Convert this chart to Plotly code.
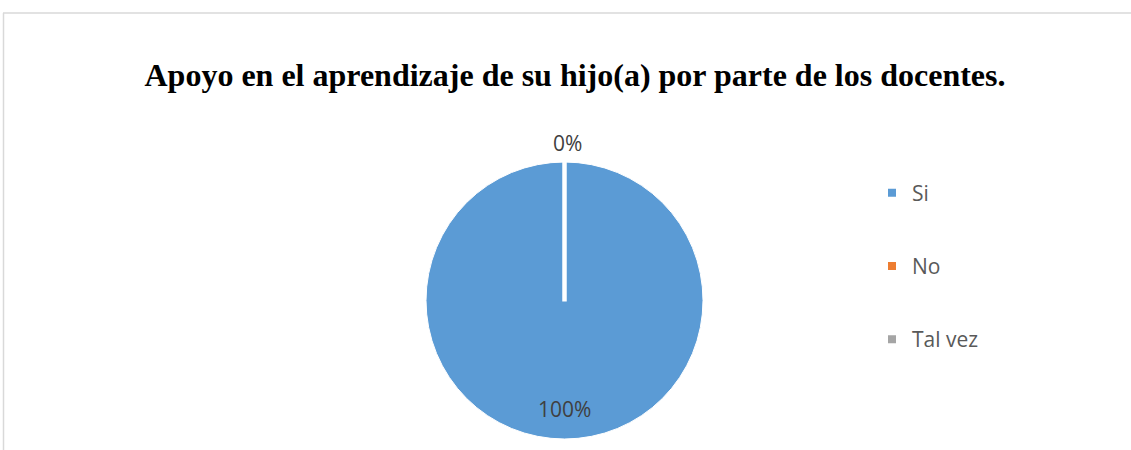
import plotly.graph_objects as go

categories = ["Si", "No", "Tal vez"]
values = [100, 0, 0]
colors = ["#5b9bd5", "#ed7d31", "#a5a5a5"]
title_text = "Apoyo en el aprendizaje de su hijo(a) por parte de los docentes."

W, H = 1131, 450
cx, cy, r = 564.5, 300.5, 138.5

total = sum(values)
pct = [v / total * 100 for v in values]

LABEL_FONT = dict(family="Open Sans, sans-serif", size=21, color="#404040")

fig = go.Figure()
fig.add_trace(go.Pie(
    labels=categories, values=values, sort=False, direction="clockwise",
    rotation=0, marker=dict(colors=colors, line=dict(color="white", width=1)),
    textinfo="none", hoverinfo="label+percent", showlegend=False,
    domain=dict(x=[(cx - r) / W, (cx + r) / W], y=[1 - (cy + r) / H, 1 - (cy - r) / H]),
))
# legend entries
for cat, col in zip(categories, colors):
    fig.add_trace(go.Scatter(
        x=[None], y=[None], mode="markers", name=cat, legendgroup=cat,
        marker=dict(symbol="square", size=8, color=col), showlegend=True,
    ))

# data labels
fig.add_annotation(x=567 / W, y=1 - 143 / H, xref="paper", yref="paper",
                   xanchor="center", yanchor="middle",
                   text=f"{pct[1]:.0f}%", showarrow=False, font=LABEL_FONT)
fig.add_annotation(x=cx / W, y=1 - 408.5 / H, xref="paper", yref="paper",
                   xanchor="center", yanchor="middle",
                   text=f"{pct[0]:.0f}%", showarrow=False, font=LABEL_FONT)

shapes = [
    dict(type="line", xref="paper", yref="paper", x0=cx / W, x1=cx / W,
         y0=1 - (cy - r - 1) / H, y1=1 - (cy + 1) / H, line=dict(color="white", width=4.5)),
    dict(type="line", xref="paper", yref="paper", x0=3 / W, x1=1, y0=1 - 13 / H, y1=1 - 13 / H,
         line=dict(color="#d9d9d9", width=1.5)),
    dict(type="line", xref="paper", yref="paper", x0=3.5 / W, x1=3.5 / W, y0=0, y1=1 - 13 / H,
         line=dict(color="#d9d9d9", width=1.5)),
]

fig.update_layout(
    width=W, height=H, margin=dict(l=0, r=0, t=0, b=0),
    paper_bgcolor="white", plot_bgcolor="white",
    title=dict(text=f"<b>{title_text}</b>", x=575 / W, xanchor="center", y=1 - 75 / H, yanchor="middle",
               font=dict(family="Liberation Serif, Times New Roman, serif", size=32, color="black")),
    xaxis=dict(visible=False), yaxis=dict(visible=False),
    legend=dict(x=872 / W, xanchor="left", y=1 - 266 / H, yanchor="middle",
                font=dict(family="Open Sans, sans-serif", size=21, color="#595959"),
                tracegroupgap=43),
    shapes=shapes,
)

fig.write_html("out.html", config={"displayModeBar": False},
               post_script="document.body.style.margin='0px';")
